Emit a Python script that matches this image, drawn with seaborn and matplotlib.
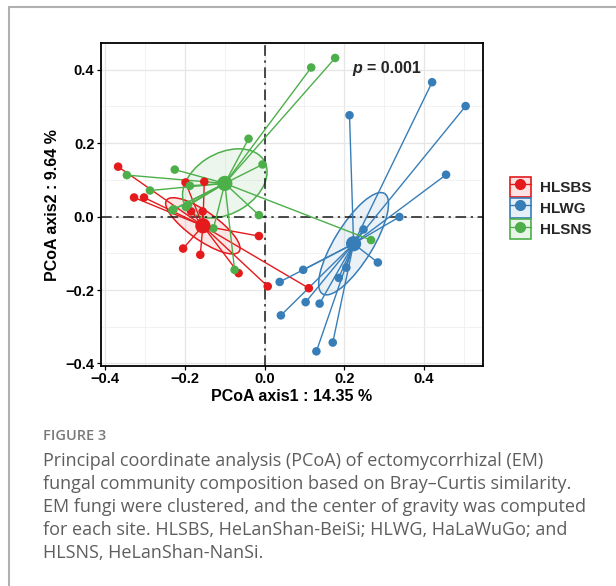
"""
PCoA of EM fungal communities (Bray-Curtis), three sites with
centroid spiders and standard-error ellipses.
"""

import numpy as np
import pandas as pd
import matplotlib.pyplot as plt
import seaborn as sns
from matplotlib.patches import Ellipse, Patch
from matplotlib.lines import Line2D
from matplotlib.legend_handler import HandlerTuple


SITES = ["HLSBS", "HLWG", "HLSNS"]
COLORS = ["#E41A1C", "#377EB8", "#4DAF4A"]

# sample scores
hlsbs_x = [-0.367, -0.327, -0.302, -0.198, -0.151, -0.184, -0.155, -0.014,
           -0.204, -0.161, -0.065, 0.008, 0.111]
hlsbs_y = [0.136, 0.052, 0.052, 0.093, 0.095, 0.014, 0.014, -0.053,
           -0.087, -0.104, -0.154, -0.190, -0.195]

hlwg_x = [0.213, 0.420, 0.504, 0.455, 0.338, 0.248, 0.284, 0.205,
          0.186, 0.097, 0.038, 0.103, 0.138, 0.041, 0.171, 0.130]
hlwg_y = [0.276, 0.366, 0.301, 0.114, -0.001, -0.035, -0.125, -0.139,
          -0.167, -0.145, -0.178, -0.233, -0.237, -0.269, -0.343, -0.367]

hlsns_x = [0.117, 0.177, -0.040, -0.005, -0.345, -0.225, -0.287, -0.187,
           -0.192, -0.014, -0.231, -0.128, -0.075, 0.267, -0.197, -0.228]
hlsns_y = [0.406, 0.432, 0.212, 0.142, 0.113, 0.128, 0.071, 0.084,
           0.032, 0.004, 0.017, -0.032, -0.145, -0.064, 0.026, 0.020]

AXIS1_PCT = 14.35
AXIS2_PCT = 9.64
P_VALUE = "0.001"

CAPTION_LINES = [
    "Principal coordinate analysis (PCoA) of ectomycorrhizal (EM)",
    "fungal community composition based on Bray\u2013Curtis similarity.",
    "EM fungi were clustered, and the center of gravity was computed",
    "for each site. HLSBS, HeLanShan-BeiSi; HLWG, HaLaWuGo; and",
    "HLSNS, HeLanShan-NanSi.",
]


def se_ellipse(x, y, color, ax):
    # 95% confidence ellipse of the centroid (standard error based)
    x = np.asarray(x)
    y = np.asarray(y)
    cov = np.cov(x, y) / len(x)
    vals, vecs = np.linalg.eigh(cov)
    order = vals.argsort()[::-1]
    vals, vecs = vals[order], vecs[:, order]
    angle = np.degrees(np.arctan2(vecs[1, 0], vecs[0, 0]))
    k = np.sqrt(5.991)
    w, h = 2 * k * np.sqrt(vals)
    ax.add_patch(Ellipse((x.mean(), y.mean()), w, h, angle=angle,
                         facecolor=color, alpha=0.1, edgecolor="none", zorder=1))
    ax.add_patch(Ellipse((x.mean(), y.mean()), w, h, angle=angle,
                         facecolor="none", edgecolor=color, lw=1.1, zorder=2))


def main():
    sns.set_theme(style="white")
    plt.rcParams["font.family"] = ["Liberation Sans", "DejaVu Sans"]

    df = pd.DataFrame({
        "PCoA1": hlsbs_x + hlwg_x + hlsns_x,
        "PCoA2": hlsbs_y + hlwg_y + hlsns_y,
        "Site": (["HLSBS"] * len(hlsbs_x) + ["HLWG"] * len(hlwg_x)
                 + ["HLSNS"] * len(hlsns_x)),
    })
    cent = df.groupby("Site", sort=False)[["PCoA1", "PCoA2"]].mean().reset_index()
    palette = dict(zip(SITES, COLORS))

    fig = plt.figure(figsize=(6.16, 5.86), dpi=100)
    ax = fig.add_axes([0.1635, 0.3754, 0.6206, 0.5507])

    # ellipses first, spider lines, then points
    for site in SITES:
        sub = df[df["Site"] == site]
        se_ellipse(sub["PCoA1"], sub["PCoA2"], palette[site], ax)
        cx, cy = cent.loc[cent["Site"] == site, ["PCoA1", "PCoA2"]].values[0]
        for px, py in zip(sub["PCoA1"], sub["PCoA2"]):
            ax.plot([cx, px], [cy, py], color=palette[site], lw=1.0, zorder=3)

    sns.scatterplot(data=df, x="PCoA1", y="PCoA2", hue="Site", palette=palette,
                    s=38, edgecolor="none", legend=False, ax=ax, zorder=4)
    sns.scatterplot(data=cent, x="PCoA1", y="PCoA2", hue="Site", palette=palette,
                    s=120, edgecolor="none", legend=False, ax=ax, zorder=5)

    ax.axhline(0, color="#1a1a1a", lw=1.1, ls=(0, (7, 3, 1.5, 3)), zorder=2.5)
    ax.axvline(0, color="#1a1a1a", lw=1.1, ls=(0, (7, 3, 1.5, 3)), zorder=2.5)

    # ggplot-like 5% expansion
    xr = df["PCoA1"].max() - df["PCoA1"].min()
    yr = df["PCoA2"].max() - df["PCoA2"].min()
    ax.set_xlim(df["PCoA1"].min() - 0.05 * xr, df["PCoA1"].max() + 0.05 * xr)
    ax.set_ylim(df["PCoA2"].min() - 0.05 * yr, df["PCoA2"].max() + 0.05 * yr)

    ticks = [-0.4, -0.2, 0.0, 0.2, 0.4]
    ax.set_xticks(ticks)
    ax.set_yticks(ticks)
    ax.set_xticklabels([f"{t:.1f}".replace("-", "\u2212") for t in ticks])
    ax.set_yticklabels([f"{t:.1f}".replace("-", "\u2212") for t in ticks])
    ax.set_xticks([-0.3, -0.1, 0.1, 0.3, 0.5], minor=True)
    ax.set_yticks([-0.3, -0.1, 0.1, 0.3], minor=True)
    ax.grid(which="major", color="#e6e6e6", lw=0.9, zorder=0)
    ax.grid(which="minor", color="#f0f0f0", lw=0.6, zorder=0)
    ax.set_axisbelow(True)
    ax.tick_params(which="major", direction="out", length=3, width=0.9,
                   color="black", labelsize=10.5, pad=1.5, left=True, bottom=True)
    ax.tick_params(which="minor", length=0)
    for lab in ax.get_xticklabels() + ax.get_yticklabels():
        lab.set_fontweight("bold")
        lab.set_color("black")
    for sp in ax.spines.values():
        sp.set_color("black")
        sp.set_linewidth(1.3)

    ax.set_xlabel(f"PCoA axis1 : {AXIS1_PCT:.2f} %", fontsize=11.5,
                  fontweight="bold", color="black", labelpad=2)
    ax.set_ylabel(f"PCoA axis2 : {AXIS2_PCT:.2f} %", fontsize=11.5,
                  fontweight="bold", color="black", labelpad=4)

    ax.text(0.22, 0.4035, "p", fontsize=11.5, fontweight="bold", style="italic",
            va="center", ha="left")
    ax.text(0.258, 0.4035, f"= {P_VALUE}", fontsize=11.5, fontweight="bold",
            va="center", ha="left")

    # legend: boxed keys with point and line, all overlaid
    handles = [(Patch(facecolor=c, alpha=0.12, edgecolor="none"),
                Patch(facecolor="none", edgecolor=c, lw=1.2),
                Line2D([], [], color=c, lw=1.0, marker="o", markersize=7))
               for c in COLORS]
    fig.legend(handles, SITES, handler_map={tuple: HandlerTuple(ndivide=1, pad=0)},
               loc="center left", bbox_to_anchor=(0.818, 0.645), frameon=False,
               handlelength=1.35, handleheight=1.65, labelspacing=0.08,
               handletextpad=0.6, borderaxespad=0,
               prop={"weight": "bold", "size": 11})

    # card border
    fig.add_artist(Line2D([9 / 616, 1], [1 - 7 / 586, 1 - 7 / 586],
                          color="#b0b0b0", lw=1.5))
    fig.add_artist(Line2D([9 / 616, 9 / 616], [0, 1 - 7 / 586],
                          color="#b0b0b0", lw=1.5))

    fig.text(43 / 616, 1 - 436 / 586, "FIGURE 3", fontsize=10.5, color="#7a7a7a",
             family="Open Sans", fontweight="semibold", va="center", ha="left")
    for i, line in enumerate(CAPTION_LINES):
        fig.text(43 / 616, 1 - (461 + 23 * i) / 586, line, fontsize=13,
                 color="#5e5e5e", family="Open Sans", va="center", ha="left")

    fig.savefig("out.png", dpi=100)
    plt.close(fig)


if __name__ == "__main__":
    main()
